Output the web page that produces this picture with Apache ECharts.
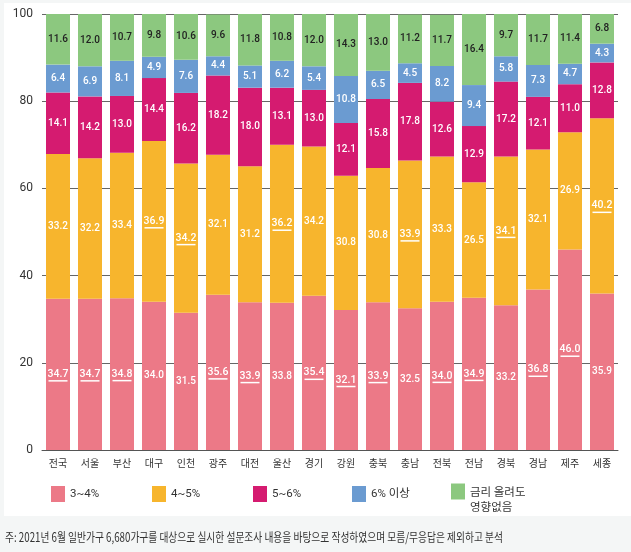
<!DOCTYPE html>
<html><head><meta charset="utf-8">
<script src="https://cdn.jsdelivr.net/npm/echarts@6/dist/echarts.min.js"></script>
<style>html,body{margin:0;padding:0;background:#f4f6f6;}#c{width:631px;height:552px;}</style>
</head><body><div id="c"></div>
<script>
const categories = ['전국','서울','부산','대구','인천','광주','대전','울산','경기','강원','충북','충남','전북','전남','경북','경남','제주','세종'];
const rate34 = [34.7,34.7,34.8,34.0,31.5,35.6,33.9,33.8,35.4,32.1,33.9,32.5,34.0,34.9,33.2,36.8,46.0,35.9];
const rate45 = [33.2,32.2,33.4,36.9,34.2,32.1,31.2,36.2,34.2,30.8,30.8,33.9,33.3,26.5,34.1,32.1,26.9,40.2];
const rate56 = [14.1,14.2,13.0,14.4,16.2,18.2,18.0,13.1,13.0,12.1,15.8,17.8,12.6,12.9,17.2,12.1,11.0,12.8];
const rate6up = [6.4,6.9,8.1,4.9,7.6,4.4,5.1,6.2,5.4,10.8,6.5,4.5,8.2,9.4,5.8,7.3,4.7,4.3];
const noEffect = [11.6,12.0,10.7,9.8,10.6,9.6,11.8,10.8,12.0,14.3,13.0,11.2,11.7,16.4,9.7,11.7,11.4,6.8];
const seriesNames = ['3~4%','4~5%','5~6%','6% 이상','금리 올려도\n영향없음'];
const yTicks = [0,20,40,60,80,100];
const footnote = '주: 2021년 6월 일반가구 6,680가구를 대상으로 실시한 설문조사 내용을 바탕으로 작성하였으며 모름/무응답은 제외하고 분석';

const colors = ['#ec7987','#f7b52d','#d51b70','#6b9bd1','#8cc87f'];
const NUM = 'Roboto,"Noto Sans CJK KR",sans-serif';
const KR = '"Noto Sans CJK KR",sans-serif';
const allSeries = [rate34, rate45, rate56, rate6up, noEffect];

function isMax(si, i){
  let m = -1, mi = -1;
  allSeries.forEach((arr, k) => { if (arr[i] > m) { m = arr[i]; mi = k; } });
  return mi === si;
}

const series = allSeries.map((arr, si) => ({
  name: seriesNames[si],
  type: 'bar',
  stack: 'all',
  barWidth: 24,
  itemStyle: { color: colors[si] },
  label: {
    show: true,
    position: 'inside',
    fontFamily: NUM,
    fontSize: 10,
    fontWeight: 500,
    color: si === 4 ? '#222' : '#fff',
    formatter: p => p.value.toFixed(1)
  },
  data: arr.map((v, i) => isMax(si, i) ? {
    value: v,
    label: {
      padding: [3, 0, 0, 0],
      formatter: p => '{t|' + p.value.toFixed(1) + '}\n{u| }',
      rich: {
        t: { fontFamily: NUM, fontSize: 10.5, fontWeight: 500, color: '#fff', lineHeight: 10 },
        u: { width: 19, height: 1.5, lineHeight: 3, fontSize: 1, backgroundColor: '#fff' }
      }
    }
  } : v)
}));

// footnote condensed to match reference width
const cv = document.createElement('canvas').getContext('2d');
cv.font = '12px "Noto Sans CJK KR"';
const footScale = 478 / cv.measureText(footnote).width;

const legendLeft = [46, 147, 248, 347, 446];
const legends = seriesNames.map((n, i) => ({
  left: legendLeft[i], top: i === 4 ? 466 : 481,
  itemWidth: 14, itemHeight: 16, icon: 'rect', selectedMode: false,
  formatter: i === 4 ? (name => '{s| }\n{a|' + name.split('\n')[0] + '}\n{a|' + name.split('\n')[1] + '}') : undefined,
  textStyle: i === 4 ? { rich: { s: { lineHeight: 15, fontSize: 11 }, a: { lineHeight: 15, fontSize: 11.5, fontFamily: KR, color: '#333' } } }
                     : { fontFamily: NUM, fontSize: 11.5, color: '#333' },
  data: [n]
}));

const chart = echarts.init(document.getElementById('c'));
chart.setOption({
  animation: false,
  backgroundColor: '#f4f6f6',
  graphic: [{
    type: 'rect', z: -10, silent: true,
    shape: { x: 4, y: 3, width: 627, height: 513 },
    style: { fill: '#ffffff' }
  }, {
    type: 'text', left: 5, top: 531, scaleX: footScale, silent: true,
    style: { text: footnote, font: '12.5px "Noto Sans CJK KR"', fill: '#333' }
  }],
  grid: { left: 42, right: 13, top: 14, bottom: 102, containLabel: false },
  xAxis: {
    type: 'category',
    data: categories,
    axisTick: { show: false },
    axisLine: { lineStyle: { color: '#555', width: 1 } },
    axisLabel: { fontFamily: KR, fontSize: 10, color: '#333', margin: 8 }
  },
  yAxis: {
    type: 'value', min: 0, max: 100, interval: 20,
    axisLine: { show: false }, axisTick: { show: false },
    splitLine: { lineStyle: { color: '#666', width: 1 } },
    axisLabel: { fontFamily: NUM, fontSize: 12, color: '#333', margin: 9,
      formatter: v => yTicks.includes(v) ? String(v) : '' }
  },
  legend: legends,
  series: series
});
</script>
</body></html>
